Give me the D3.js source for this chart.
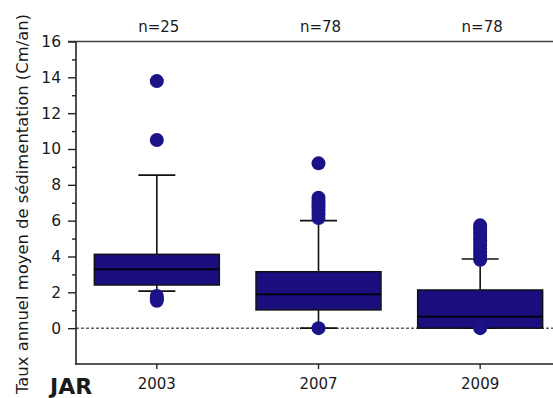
<!DOCTYPE html>
<html><head><meta charset="utf-8">
<script src="https://cdn.jsdelivr.net/npm/d3@7"></script>
<style>body{margin:0;background:#fff}svg{display:block}text{font-family:"DejaVu Sans",sans-serif;fill:#1a1a1a}</style>
</head><body>
<svg id="c" width="553" height="398"></svg>
<script>
const years = ["2003","2007","2009"];
const nLabels = ["n=25","n=78","n=78"];
const q1 = [2.41, 1.02, 0.0];
const medians = [3.28, 1.89, 0.64];
const q3 = [4.12, 3.15, 2.13];
const whiskerLow = [2.07, 0.0, 0.0];
const whiskerHigh = [8.54, 6.0, 3.86];
const outliers2003 = [13.79, 10.5, 1.8, 1.65, 1.53];
const outliers2007 = [9.2, 7.28, 7.1, 6.95, 6.75, 6.55, 6.35, 6.15, 0.0];
const outliers2009 = [5.74, 5.6, 5.45, 5.25, 5.05, 4.85, 4.65, 4.45, 4.25, 4.05, 3.82, 0.0];
const yMajorTicks = [0,2,4,6,8,10,12,14,16];
const yMinorTicks = [1,3,5,7,9,11,13,15];
const yTitle = "Taux annuel moyen de sédimentation (Cm/an)";
const xTitle = "JAR";

const outliers = [outliers2003, outliers2007, outliers2009];
const fill = "#1b0f80";
const svg = d3.select("#c");
const y = d3.scaleLinear().domain([-2,16]).range([364,41.5]);
const x = d3.scaleBand().domain(years).range([76,561]).padding(0);
const boxW = x.bandwidth()*0.773, capW = 37;
const cx = d => x(d)+x.bandwidth()/2;
const X0 = 76;

// zero dashed line
svg.append("line").attr("x1",X0).attr("x2",553).attr("y1",y(0)).attr("y2",y(0))
  .attr("stroke","#111").attr("stroke-width",1).attr("stroke-dasharray","3,2");

// top frame line
svg.append("line").attr("x1",68).attr("x2",553).attr("y1",y(16)).attr("y2",y(16))
  .attr("stroke","#444").attr("stroke-width",1.6);

// y axis
const ga = svg.append("g").attr("transform",`translate(${X0},0)`)
  .call(d3.axisLeft(y).tickValues(yMajorTicks).tickSize(8).tickPadding(7).tickFormat(d3.format("d")));
ga.select(".domain").remove();
ga.selectAll(".tick line").attr("stroke","#222").attr("stroke-width",1.4);
ga.selectAll(".tick text").attr("font-size",15.5).attr("fill","#1a1a1a")
  .attr("font-family","DejaVu Sans, sans-serif");
const gm = svg.append("g").attr("transform",`translate(${X0},0)`)
  .call(d3.axisLeft(y).tickValues(yMinorTicks).tickSize(4).tickFormat(""));
gm.select(".domain").remove();
gm.selectAll(".tick line").attr("stroke","#222").attr("stroke-width",1.4);
svg.append("line").attr("x1",X0).attr("x2",X0).attr("y1",y(16)).attr("y2",y(-2)+0.7)
  .attr("stroke","#222").attr("stroke-width",1.6);

// x axis
const gx = svg.append("g").attr("transform",`translate(0,${y(-2)})`)
  .call(d3.axisBottom(x).tickSize(5).tickPadding(11));
gx.select(".domain").remove();
gx.selectAll(".tick line").attr("stroke","#222").attr("stroke-width",1.4);
gx.selectAll(".tick text").attr("font-size",15).attr("fill","#1a1a1a")
  .attr("font-family","DejaVu Sans, sans-serif").attr("dy","0.6em");
svg.append("line").attr("x1",X0-0.8).attr("x2",553).attr("y1",y(-2)).attr("y2",y(-2))
  .attr("stroke","#222").attr("stroke-width",1.6);

// boxes
const g = svg.append("g");
years.forEach((yr,i)=>{
  const c = cx(yr);
  g.append("line").attr("x1",c).attr("x2",c).attr("y1",y(whiskerHigh[i])).attr("y2",y(whiskerLow[i]))
    .attr("stroke","#111").attr("stroke-width",1.6);
  [whiskerHigh[i], whiskerLow[i]].forEach(v=>{
    g.append("line").attr("x1",c-capW/2).attr("x2",c+capW/2).attr("y1",y(v)).attr("y2",y(v))
      .attr("stroke","#111").attr("stroke-width",1.6);
  });
  g.append("rect").attr("x",c-boxW/2).attr("width",boxW).attr("y",y(q3[i])).attr("height",y(q1[i])-y(q3[i]))
    .attr("fill",fill).attr("stroke","#111").attr("stroke-width",1.5);
  g.append("line").attr("x1",c-boxW/2).attr("x2",c+boxW/2).attr("y1",y(medians[i])).attr("y2",y(medians[i]))
    .attr("stroke","#000").attr("stroke-width",1.8);
  g.selectAll(null).data(outliers[i]).enter().append("circle")
    .attr("cx",c).attr("cy",d=>y(d)).attr("r",7).attr("fill","#1c1287");
  svg.append("text").attr("x",c+2).attr("y",32).attr("text-anchor","middle")
    .attr("font-size",15).text(nLabels[i]);
});

// titles
svg.append("text").attr("x",50).attr("y",393.5).attr("font-size",22).attr("font-weight","bold")
  .attr("font-family","Liberation Sans, Arial, sans-serif").attr("fill","#111").text(xTitle);
svg.append("text").attr("transform","translate(28,204) rotate(-90)").attr("text-anchor","middle")
  .attr("font-size",15).attr("textLength",380).attr("lengthAdjust","spacingAndGlyphs").text(yTitle);
</script>
</body></html>
